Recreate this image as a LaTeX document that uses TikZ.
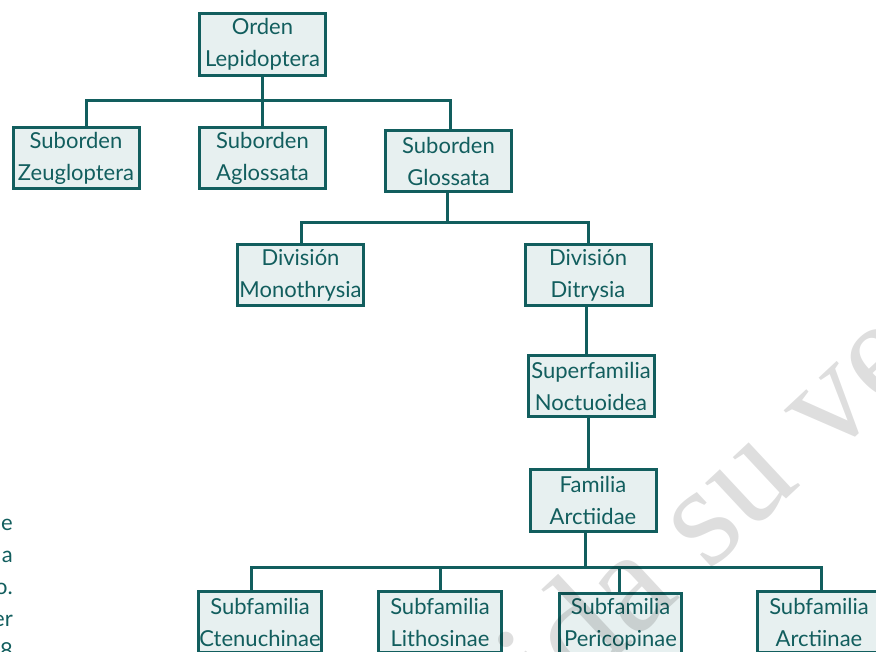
\documentclass[tikz,border=0pt]{standalone}
\usepackage{fontspec}
\setmainfont{Lato}
\newfontfamily\markfont{Liberation Serif}
\usepackage{xcolor}
\definecolor{taxonteal}{RGB}{18, 94, 94}
\definecolor{taxonfill}{RGB}{231, 240, 240}
\usepackage{tikz}
\usetikzlibrary{calc}

\begin{document}
\begin{tikzpicture}[x=1pt, y=-1pt,
    taxon/.style={draw=taxonteal, fill=taxonfill, line width=3pt, text=taxonteal, align=center, inner sep=0pt, minimum width=126pt, minimum height=61.5pt, font=\fontsize{22}{32}\selectfont},
    branch/.style={taxonteal, line width=3pt},
    pagetext/.style={text=taxonteal, anchor=base east, inner sep=0pt, font=\fontsize{22}{32}\selectfont},
    watermark/.style={text=black, text opacity=0.13, anchor=base west, inner sep=0pt, rotate=43, font=\markfont\fontsize{145}{145}\selectfont}]
    \useasboundingbox (0,0) rectangle (876,652);
    % taxa
    \node[taxon] (orden) at (262.5,44.5) {Orden\\Lepidoptera};
    \node[taxon] (zeuglo) at (76,158) {Suborden\\Zeugloptera};
    \node[taxon] (aglo) at (262.5,158) {Suborden\\Aglossata};
    \node[taxon] (glosa) at (448.5,161) {Suborden\\Glossata};
    \node[taxon] (monot) at (300.5,275) {División\\Monothrysia};
    \node[taxon] (ditry) at (588,275) {División\\Ditrysia};
    \node[taxon] (noctu) at (591,386) {Superfamilia\\Noctuoidea};
    \node[taxon] (arctii) at (593,500.5) {Familia\\Arctiidae};
    \node[taxon, minimum width=123pt] (ctenu) at (260,622) {Subfamilia\\Ctenuchinae};
    \node[taxon, minimum width=123pt] (litho) at (440,622) {Subfamilia\\Lithosinae};
    \node[taxon, minimum width=122pt] (perico) at (620.5,624) {Subfamilia\\Pericopinae};
    \node[taxon, minimum width=123pt] (arctiin) at (819,622) {Subfamilia\\Arctiinae};
    % branches
    \draw[branch] (orden.south) -- (orden.south |- 0,101);
    \draw[branch] (zeuglo.north -| 86,0) |- (450,101) -- (glosa.north -| 450,0);
    \draw[branch] (aglo.north) -- (aglo.north |- 0,101);
    \draw[branch] (glosa.south -| 447,0) -- (447,223);
    \draw[branch] (monot.north -| 301,0) |- (588,223) -- (ditry.north);
    \draw[branch] (ditry.south -| 586,0) -- (noctu.north -| 586,0);
    \draw[branch] (noctu.south -| 588,0) -- (arctii.north -| 588,0);
    \draw[branch] (arctii.south -| 585,0) -- (585,567);
    \draw[branch] (ctenu.north -| 251,0) |- (821,567) -- (arctiin.north -| 821,0);
    \draw[branch] (litho.north) -- (litho.north |- 0,567);
    \draw[branch] (perico.north -| 619,0) -- (619,567);
    % cut page text on the left
    \foreach \frag/\y in {e/530, a/562, o./594, er/626, 8/658}
        \node[pagetext] (frag\y) at (13,\y) {\frag};
    % watermark
    \begin{scope}
        \clip (0,0) rectangle (876,652);
        \node[watermark] (marca) at (552,718) {ida su ve};
    \end{scope}
\end{tikzpicture}
\end{document}
